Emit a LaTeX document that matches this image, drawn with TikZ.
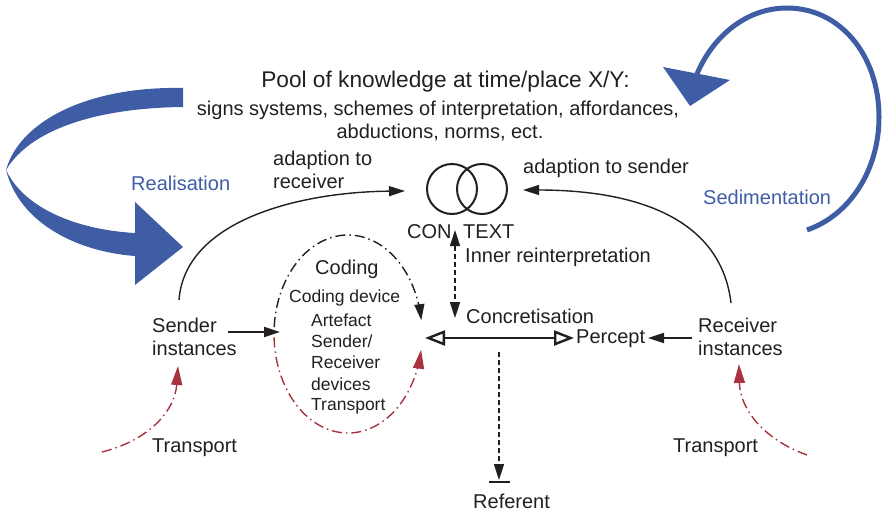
\documentclass[tikz,border=0pt]{standalone}
\usepackage{fontspec}
\setmainfont{Liberation Sans}
\usetikzlibrary{arrows.meta}
\definecolor{kblue}{RGB}{62,93,165}
\definecolor{kred}{RGB}{168,50,62}
\definecolor{kink}{RGB}{35,31,32}
\tikzset{
  txt/.style={anchor=base west, inner sep=0pt, font=\fontsize{20}{24}\selectfont, text=kink},
  ctxt/.style={anchor=base, inner sep=0pt, font=\fontsize{20}{24}\selectfont, text=kink},
  itemtxt/.style={anchor=base west, inner sep=0pt, font=\fontsize{17.5}{21}\selectfont, text=kink},
  bluetxt/.style={txt, text=kblue},
  tip/.style={-{Triangle[length=16pt,width=10pt]}},
  conn/.style={draw=kink, line width=1.4pt, tip},
  dashconn/.style={draw=kink, line width=1.5pt, dash pattern=on 5pt off 3pt},
  dashdot/.style={line width=1.4pt, dash pattern=on 10pt off 4pt on 1.5pt off 4pt},
  redtip/.style={-{Triangle[length=19pt,width=11pt,fill=kred]}},
  ring/.style={circle, draw=kink, line width=2pt, minimum size=50pt, inner sep=0pt},
}
\begin{document}
\begin{tikzpicture}[x=1pt,y=-1pt]
\useasboundingbox (0,0) rectangle (883,514);

% big blue realisation arrow
\fill[kblue] (183,88) .. controls (90,86) and (20,120) .. (6,170)
  .. controls (20,225) and (80,252) .. (135,256)
  -- (135,285) -- (183,247) -- (135,202) -- (135,233)
  .. controls (80,230) and (25,210) .. (6,170)
  .. controls (30,130) and (95,108) .. (183,107) -- cycle;

% sedimentation arrow
\draw[kblue, line width=5pt] (807,230) .. controls (850,215) and (879,170) .. (879,117)
  .. controls (879,55) and (840,8) .. (787,8)
  .. controls (745,8) and (712,38) .. (697,74);
\fill[kblue] (663,67) -- (730,80) -- (690,106) -- cycle;

% texts
\node[anchor=base, inner sep=0pt, font=\fontsize{22.7}{26}\selectfont, text=kink] (pool) at (445.5,87) {Pool of knowledge at time/place X/Y:};
\node[ctxt] (signs) at (438,115) {signs systems, schemes of interpretation, affordances,};
\node[ctxt] (abduct) at (440,138) {abductions, norms, ect.};
\node[bluetxt] (real) at (131,190) {Realisation};
\node[bluetxt] (sedi) at (703,204) {Sedimentation};
\node[txt] (adR1) at (273,165) {adaption to};
\node[txt] (adR2) at (273,188) {receiver};
\node[txt] (adS) at (523,173) {adaption to sender};
\node[txt] (con) at (407,238) {CON};
\node[txt] (text) at (463,238) {TEXT};
\node[txt] (inner) at (465,262) {Inner reinterpretation};
\node[txt] (coding) at (315,274) {Coding};
\node[itemtxt] (cdev) at (289,302) {Coding device};
\node[itemtxt] (art) at (311,326) {Artefact};
\node[itemtxt] (sdr) at (311,347) {Sender/};
\node[itemtxt] (rcvd) at (311,368) {Receiver};
\node[itemtxt] (devs) at (311,390) {devices};
\node[itemtxt] (trans) at (311,410) {Transport};
\node[txt] (concr) at (466,323) {Concretisation};
\node[txt] (percept) at (576,343) {Percept};
\node[txt] (refer) at (473,508) {Referent};
\node[txt] (snd1) at (152,332) {Sender};
\node[txt] (snd2) at (152,355) {instances};
\node[txt] (rcv1) at (698,332) {Receiver};
\node[txt] (rcv2) at (698,355) {instances};
\node[txt] (trL) at (152,452) {Transport};
\node[txt] (trR) at (673,452) {Transport};

% context circles
\node[ring] (cL) at (452,189) {};
\node[ring] (cR) at (482,189) {};

% coordinates
\coordinate (arcLs) at (179,300);
\coordinate (arcLe) at (405,191);
\coordinate (arcRs) at (731,303);
\coordinate (arcRe) at (523,190);
\coordinate (vTop) at (455,230);
\coordinate (vBot) at (455,318);
\coordinate (refS) at (499,352);
\coordinate (refE) at (499,480);
\coordinate (barL) at (489,482);
\coordinate (barR) at (510,482);
\coordinate (hL) at (425,338);
\coordinate (hR) at (574,338);
\coordinate (sndA) at (228,332);
\coordinate (sndB) at (280,332);
\coordinate (rcvA) at (692,338);
\coordinate (rcvB) at (648,338);
\coordinate (trLs) at (102,452);
\coordinate (trLe) at (178,366);
\coordinate (trRs) at (807,455);
\coordinate (trRe) at (739,364);

% connectors
\draw[conn] (arcLs) .. controls (185,220) and (300,192) .. (arcLe);
\draw[conn] (arcRs) .. controls (720,210) and (620,190) .. (arcRe);
\draw[dashconn, {Triangle[length=16pt,width=10pt]}-{Triangle[length=16pt,width=10pt]}] (vTop) -- (vBot);
\draw[dashconn, tip] (refS) -- (refE);
\draw[draw=kink, line width=2pt] (barL) -- (barR);
\draw[draw=kink, line width=2.4pt, {Triangle[open,length=20pt,width=15pt,fill=white]}-{Triangle[open,length=20pt,width=15pt,fill=white]}] (hL) -- (hR);
\draw[conn, line width=2.2pt] (sndA) -- (sndB);
\draw[conn, line width=1.8pt] (rcvA) -- (rcvB);

% coding ellipse
\draw[dashdot, draw=kink, tip] plot[domain=184:352, samples=80] ({348+74*cos(\x)}, {334+99*sin(\x)});
\draw[dashdot, draw=kred, redtip] plot[domain=0:1, samples=80] ({348+74*cos(178-169*\x)}, {334+99*sin(178-169*\x)});

% transport arrows
\draw[dashdot, draw=kred, redtip] (trLs) .. controls (150,440) and (175,410) .. (trLe);
\draw[dashdot, draw=kred, redtip] (trRs) .. controls (765,440) and (740,410) .. (trRe);
\end{tikzpicture}
\end{document}
